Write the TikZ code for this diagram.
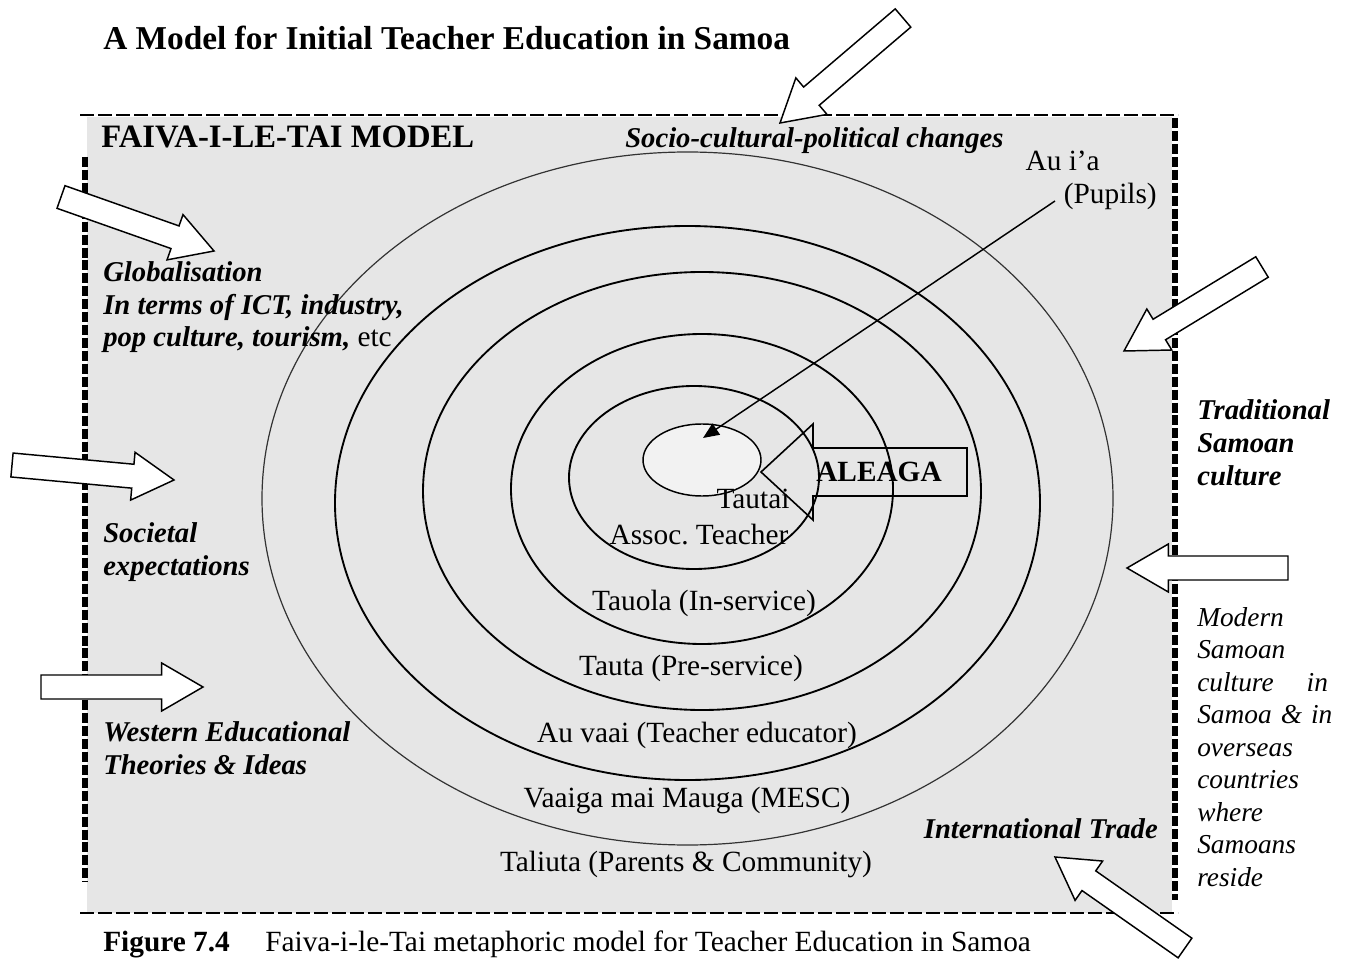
\documentclass[tikz,border=0pt]{standalone}
\usepackage{fontspec}
\setmainfont{Liberation Serif}
\usetikzlibrary{calc,arrows.meta,shapes.geometric}
\definecolor{panel}{HTML}{E6E6E6}
\definecolor{corefill}{HTML}{F2F2F2}
\newcommand\bodyfont{\fontsize{21.5}{24.6}\selectfont}
\newcommand\plainfont{\fontsize{22}{24.6}\selectfont}
\newcommand\fullline[1]{\leavevmode\hbox to 98pt{#1}}
\newcommand\faivaarrow[2]{%
  \coordinate (#1h) at ($(#2)!31pt!(#1)$);
  \draw[blockarr] ($(#1)!9pt!90:(#2)$) -- ($(#1h)!9pt!-90:(#1)$) -- ($(#1h)!18pt!-90:(#1)$) -- (#2)
     -- ($(#1h)!18pt!90:(#1)$) -- ($(#1h)!9pt!90:(#1)$) -- ($(#1)!9pt!-90:(#2)$) -- cycle;}
\begin{document}
\begin{tikzpicture}[x=0.75pt,y=-0.75pt,
  ring/.style={line width=1.4pt},
  outerring/.style={line width=0.9pt, draw=black!80},
  blockarr/.style={draw, line width=1.1pt, fill=white, line join=miter},
  lbl/.style={inner sep=0pt, font=\plainfont},
  bi/.style={inner sep=0pt, font=\bodyfont\bfseries\itshape},
  thinborder/.style={line width=1.5pt, dash pattern=on 10.5pt off 3pt},
  thickborder/.style={line width=3.8pt, dash pattern=on 7.5pt off 2.2pt}]
\useasboundingbox (0,0) rectangle (1350,959);
% panel
\fill[panel] (87,117) rectangle (1172,913);
% rings
\draw[outerring] (687.5,498.5) ellipse [x radius=425.5, y radius=346.5];
\draw[ring] (687.5,503) ellipse [x radius=352.5, y radius=277];
\draw[ring] (702,491) ellipse [x radius=279, y radius=219];
\draw[ring] (702,489) ellipse [x radius=191, y radius=155];
\draw[ring] (694,477.5) ellipse [x radius=125, y radius=91.5];
% core
\node[draw, line width=1.1pt, fill=corefill, ellipse, minimum width=88.5pt, minimum height=54pt, inner sep=0pt] (core) at (702,460) {};
% ALEAGA block arrow
\draw[line width=1.2pt, line join=miter] (761,472) -- (813,424) -- (813,448) -- (967,448) -- (967,496) -- (813,496) -- (813,520) -- cycle;
\node[lbl, font=\plainfont\bfseries, anchor=base] (aleaga) at (879,481) {ALEAGA};
% pupils arrow
\node[lbl, anchor=base east] (auia) at (1100,171) {Au i'a};
\node[lbl, anchor=base east] (pupils) at (1157,204) {(Pupils)};
\coordinate (pstart) at (1055,201);
\coordinate (pend) at (703,438);
\draw[line width=1.1pt, -{Triangle[length=12pt,width=10pt]}] (pstart) -- (pend);
% ring labels
\node[lbl, anchor=base] (tautai) at (753,508) {Tautai};
\node[lbl, anchor=base] (assoc) at (699,544) {Assoc.\ Teacher};
\node[lbl, anchor=base] (tauola) at (704,610) {Tauola (In-service)};
\node[lbl, anchor=base] (tauta) at (691,675) {Tauta (Pre-service)};
\node[lbl, anchor=base] (auvaai) at (697,742) {Au vaai (Teacher educator)};
\node[lbl, anchor=base] (vaaiga) at (687,807) {Vaaiga mai Mauga (MESC)};
\node[lbl, anchor=base] (taliuta) at (686,871) {Taliuta (Parents \& Community)};
% headings
\node[lbl, font=\fontsize{25}{28}\selectfont\bfseries, anchor=base west] (title) at (103,50) {A Model for Initial Teacher Education in Samoa};
\node[lbl, font=\fontsize{24.5}{26}\selectfont\bfseries, anchor=base west] (model) at (101,148) {FAIVA-I-LE-TAI MODEL};
\node[bi, anchor=base west] (socio) at (625,148) {Socio-cultural-political changes};
% left labels
\node[bi, anchor=base west, align=left] (glob) at (103,347) {Globalisation\\In terms of ICT, industry,\\pop culture, tourism,\textnormal{\plainfont\ etc}};
\node[bi, anchor=base west, align=left] (soc) at (103,575) {Societal\\expectations};
\node[bi, anchor=base west, align=left] (west) at (103,774) {Western Educational\\Theories \& Ideas};
% right labels
\node[bi, anchor=base west, align=left] (trad) at (1197,485) {Traditional\\Samoan\\culture};
\node[inner sep=0pt, anchor=base west, align=left, text width=98pt, font={\fontsize{20.5}{24.4}\selectfont\itshape}] (modern) at (1197,626) {Modern\\Samoan\\\fullline{culture\hfill in}\\\fullline{Samoa \& \hfill in}\\overseas\\countries\\where\\Samoans\\reside};
\node[bi, anchor=base east] (trade) at (1158,838) {International Trade};
% caption
\node[lbl, font=\plainfont\bfseries, anchor=base west] (fig) at (103,951) {Figure 7.4};
\node[lbl, anchor=base west] (cap) at (265,951) {Faiva-i-le-Tai metaphoric model for Teacher Education in Samoa};
% borders
\draw[thinborder] (80,115) -- (1178,115);
\draw[thinborder] (80,913) -- (1178,913);
\draw[thickborder] (85,157) -- (85,882);
\draw[thickborder] (1175,118) -- (1175,900);
% block arrows
\coordinate (a1t) at (903,18);   \coordinate (a1p) at (780,123);
\coordinate (a2t) at (61,197);   \coordinate (a2p) at (214,251);
\coordinate (a3t) at (12,465);   \coordinate (a3p) at (174,480);
\coordinate (a4t) at (41,687);   \coordinate (a4p) at (203,687);
\coordinate (a5t) at (1262,267); \coordinate (a5p) at (1124,351);
\coordinate (a6t) at (1288,568); \coordinate (a6p) at (1127,568);
\coordinate (a7t) at (1185,948); \coordinate (a7p) at (1055,857);
\faivaarrow{a1t}{a1p}
\faivaarrow{a2t}{a2p}
\faivaarrow{a3t}{a3p}
\faivaarrow{a4t}{a4p}
\faivaarrow{a5t}{a5p}
\faivaarrow{a6t}{a6p}
\faivaarrow{a7t}{a7p}
\end{tikzpicture}
\end{document}
